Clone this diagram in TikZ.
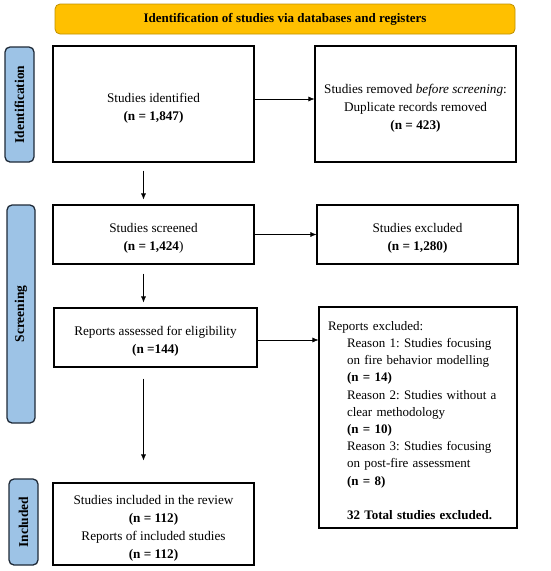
\documentclass[tikz,border=0pt]{standalone}
\usepackage{fontspec}
\setmainfont{Liberation Serif}
\frenchspacing
\usetikzlibrary{arrows.meta}
\definecolor{bannerfill}{HTML}{FFC000}
\definecolor{bannerdraw}{HTML}{BF9000}
\definecolor{sidefill}{HTML}{9DC3E6}
\definecolor{sidedraw}{HTML}{1F2A38}
\tikzset{
  box/.style={draw=black, line width=1.1pt, inner sep=0pt},
  boxtext/.style={align=center, inner sep=0pt, yshift=-4pt,
    font=\fontsize{13.2}{18}\selectfont},
  listtext/.style={align=left, inner sep=0pt, yshift=-3pt, text width=180pt,
    font=\fontsize{13}{17.2}\selectfont},
  sidelabel/.style={draw=sidedraw, fill=sidefill, line width=1.3pt, rounded corners=5pt,
    rotate=90, font=\bfseries\fontsize{13.5}{14}\selectfont, inner sep=0pt},
  banner/.style={draw=bannerdraw, fill=bannerfill, line width=0.8pt, rounded corners=5pt,
    font=\bfseries\fontsize{13}{14}\selectfont, inner sep=0pt},
  arr/.style={-{Latex[length=6pt,width=5pt]}, line width=0.6pt},
}
\begin{document}
\begin{tikzpicture}[x=1pt,y=-1pt]
\useasboundingbox (0,0) rectangle (550,571);
\node[banner, minimum width=460, minimum height=30] (ban) at (285,19) {Identification of studies via databases and registers};
\node[sidelabel, minimum width=115, minimum height=29] (lid) at (19.5,104.5) {Identification};
\node[sidelabel, minimum width=218, minimum height=28] (lsc) at (21,314) {Screening};
\node[sidelabel, minimum width=86, minimum height=29] (lin) at (23.5,522) {Included};
\node[box, minimum width=201, minimum height=116,
  label={[boxtext]center:{Studies identified\\\textbf{(n = 1,847)}}}] (b1) at (153.5,104) {};
\node[box, minimum width=201, minimum height=116,
  label={[boxtext]center:{Studies removed \textit{before screening}:\\Duplicate records removed\\\textbf{(n = 423)}}}] (b2) at (415.5,104) {};
\node[box, minimum width=201, minimum height=59,
  label={[boxtext]center:{Studies screened\\\textbf{(n = 1,424})}}] (b3) at (153.5,234.5) {};
\node[box, minimum width=201, minimum height=59,
  label={[boxtext]center:{Studies excluded\\\textbf{(n = 1,280)}}}] (b4) at (417.5,234.5) {};
\node[box, minimum width=203, minimum height=59,
  label={[boxtext]center:{Reports assessed for eligibility\\\textbf{(n =144)}}}] (b5) at (155.5,337.5) {};
\node[box, minimum width=198, minimum height=221,
  label={[listtext]center:{Reports excluded:\\
\hspace*{19pt}Reason 1: Studies focusing\\
\hspace*{19pt}on fire behavior modelling\\
\hspace*{19pt}\textbf{(n = 14)}\\
\hspace*{19pt}Reason 2: Studies without a\\
\hspace*{19pt}clear methodology\\
\hspace*{19pt}\textbf{(n = 10)}\\
\hspace*{19pt}Reason 3: Studies focusing\\
\hspace*{19pt}on post-fire assessment\\
\hspace*{19pt}\textbf{(n = 8)}\\[17.2pt]
\hspace*{19pt}\textbf{32 Total studies excluded.}}}] (b6) at (418,417.5) {};
\node[box, minimum width=201, minimum height=82,
  label={[boxtext]center:{Studies included in the review\\\textbf{(n = 112)}\\Reports of included studies\\\textbf{(n = 112)}}}] (b7) at (153.5,524) {};
\draw[arr] ([yshift=5pt]b1.east) -- ([yshift=5pt]b2.west);
\draw[arr] (b3.east) -- (b4.west);
\draw[arr] ([yshift=-2.5pt]b5.east) -- ([yshift=-2.5pt]b5.east -| b6.west);
\draw[arr, shorten <=8pt, shorten >=5pt] ([xshift=-10pt]b1.south) -- ([xshift=-10pt]b3.north);
\draw[arr, shorten <=9pt, shorten >=5pt] ([xshift=-10pt]b3.south) -- ([xshift=-10pt]b3.south |- b5.north);
\draw[arr, shorten <=11pt, shorten >=22pt] ([xshift=-12pt]b5.south) -- ([xshift=-12pt]b5.south |- b7.north);
\end{tikzpicture}
\end{document}
